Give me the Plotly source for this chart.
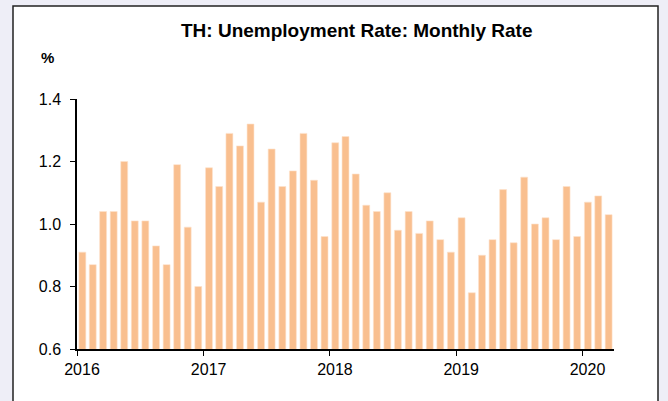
import plotly.graph_objects as go
import pandas as pd

# monthly unemployment rate, Jan 2016 - Mar 2020
months = pd.date_range("2016-01-01", "2020-03-01", freq="MS").strftime("%Y-%m-%d").tolist()
rate = [
    0.91, 0.87, 1.04, 1.04, 1.20, 1.01, 1.01, 0.93, 0.87, 1.19, 0.99, 0.80,
    1.18, 1.12, 1.29, 1.25, 1.32, 1.07, 1.24, 1.12, 1.17, 1.29, 1.14, 0.96,
    1.26, 1.28, 1.16, 1.06, 1.04, 1.10, 0.98, 1.04, 0.97, 1.01, 0.95, 0.91,
    1.02, 0.78, 0.90, 0.95, 1.11, 0.94, 1.15, 1.00, 1.02, 0.95, 1.12, 0.96,
    1.07, 1.09, 1.03,
]
year_ticks = ["2016-01-01", "2017-01-01", "2018-01-01", "2019-01-01", "2020-01-01"]
year_labels = ["2016", "2017", "2018", "2019", "2020"]
y_ticks = [0.6, 0.8, 1.0, 1.2, 1.4]

font = "Arial, Liberation Sans, sans-serif"

fig = go.Figure()
fig.add_trace(go.Bar(
    x=months, y=rate,
    xperiod="M1", xperiodalignment="middle",
    width=20 * 86400000,
    marker=dict(color="#F9BF8F", line=dict(color="#FDE3CC", width=0.6)),
))

# white panel with black frame on a lavender page
fig.add_shape(type="rect", xref="paper", yref="paper",
              x0=-64 / 537, x1=581 / 537, y0=-60 / 250, y1=343 / 250,
              fillcolor="white", line=dict(color="#222222", width=1.5), layer="below")

fig.add_annotation(text="<b>TH: Unemployment Rate: Monthly Rate</b>", xref="paper", yref="paper",
                   x=280 / 537, y=319 / 250, showarrow=False, xanchor="center", yanchor="middle",
                   font=dict(size=19, color="black", family=font))
fig.add_annotation(text="<b>%</b>", xref="paper", yref="paper",
                   x=-38 / 537, y=292 / 250, showarrow=False, xanchor="left", yanchor="middle",
                   font=dict(size=15, color="black", family=font))

fig.update_layout(
    width=668, height=401,
    margin=dict(l=77, r=54, t=99, b=52),
    paper_bgcolor="#EEEEF7", plot_bgcolor="white",
    showlegend=False,
    font=dict(family=font, size=16, color="black"),
)
fig.update_xaxes(
    type="date", range=["2016-01-01", "2020-04-01"],
    tickvals=year_ticks, ticktext=year_labels,
    ticks="outside", ticklen=5, tickcolor="black",
    showline=True, linecolor="black", linewidth=1.5,
    showgrid=False, zeroline=False, ticklabelshift=5,
)
fig.update_yaxes(
    range=[0.6, 1.4], tickvals=y_ticks, ticktext=["0.6", "0.8", "1.0", "1.2", "1.4"],
    ticks="outside", ticklen=5, tickcolor="black",
    showline=True, linecolor="black", linewidth=1.5,
    showgrid=False, zeroline=False, ticklabelstandoff=6,
)

fig.write_html("out.html", config={"displayModeBar": False},
               post_script="document.body.style.margin='0px';")
